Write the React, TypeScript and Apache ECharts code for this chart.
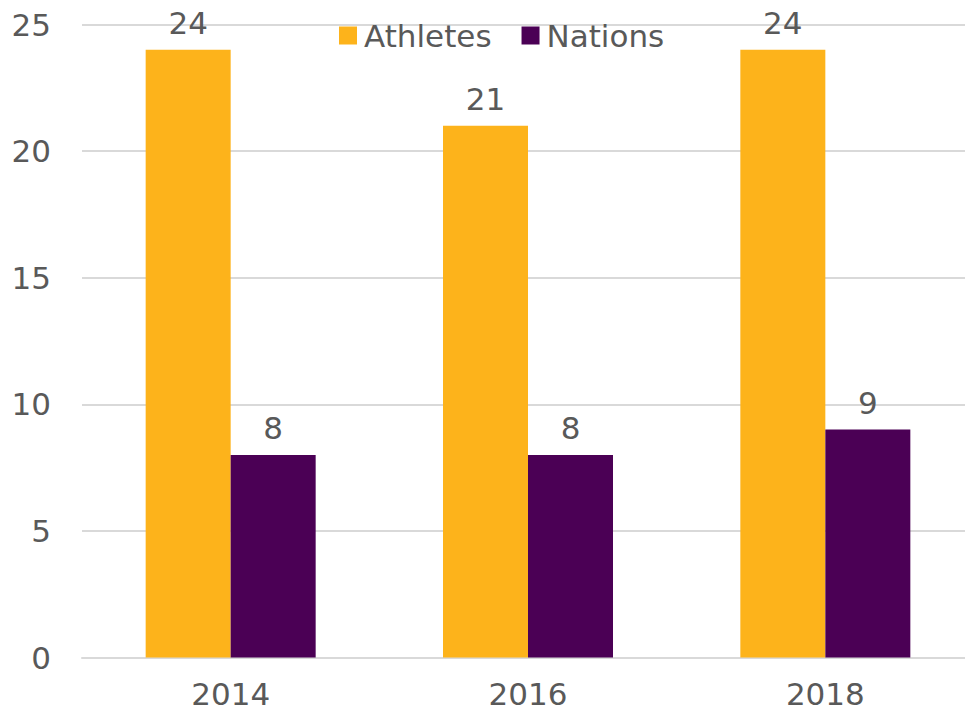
import React, { useEffect, useRef } from "react";
import * as echarts from "echarts";

const categories = ["2014", "2016", "2018"];
const athletes = [24, 21, 24];
const nations = [8, 8, 9];
const yTicks = { min: 0, max: 25, interval: 5 };

const FONT = "'DejaVu Sans', sans-serif";
const TEXT = "#595959";
const FW = "normal";

export default function App() {
  const ref = useRef<HTMLDivElement>(null);
  useEffect(() => {
    const chart = echarts.init(ref.current!, null, { renderer: "svg" });
    chart.setOption({
      animation: false,
      textStyle: { fontFamily: FONT, fontWeight: FW },
      legend: {
        left: 334,
        top: 15,
        itemWidth: 18,
        itemHeight: 18,
        itemGap: 30,
        icon: "rect",
        textStyle: { fontSize: 31, color: TEXT, fontFamily: FONT, fontWeight: FW, padding: [0, 0, 0, 2] },
        data: ["Athletes", "Nations"],
      },
      grid: { left: 82, right: 0, top: 24.5, bottom: 55.5, containLabel: false },
      xAxis: {
        type: "category",
        data: categories,
        axisLine: { show: true, lineStyle: { color: "#d9d9d9", width: 2 } },
        axisTick: { show: false },
        axisLabel: { fontSize: 31, lineHeight: 23, color: TEXT, margin: 25, fontFamily: FONT, fontWeight: FW },
      },
      yAxis: {
        type: "value",
        min: yTicks.min,
        max: yTicks.max,
        interval: yTicks.interval,
        axisLine: { show: false },
        axisTick: { show: false },
        splitLine: { lineStyle: { color: "#d9d9d9", width: 2 } },
        axisLabel: { fontSize: 31, color: TEXT, margin: 31, fontFamily: FONT, fontWeight: FW },
      },
      series: [
        {
          name: "Athletes",
          type: "bar",
          data: athletes,
          barWidth: 85,
          barGap: "0%",
          itemStyle: { color: "#FDB31B" },
          label: { show: true, position: "top", distance: 11, fontSize: 31, color: TEXT, fontFamily: FONT, fontWeight: FW },
        },
        {
          name: "Nations",
          type: "bar",
          data: nations,
          barWidth: 85,
          barGap: "0%",
          itemStyle: { color: "#4B0055" },
          label: { show: true, position: "top", distance: 11, fontSize: 31, color: TEXT, fontFamily: FONT, fontWeight: FW },
        },
      ],
    });
    return () => chart.dispose();
  }, []);
  return (
    <div style={{ position: "fixed", left: 0, top: 0, width: 965, height: 713, overflow: "hidden", background: "#fff" }}>
      <div ref={ref} style={{ width: 974, height: 713 }} />
    </div>
  );
}
